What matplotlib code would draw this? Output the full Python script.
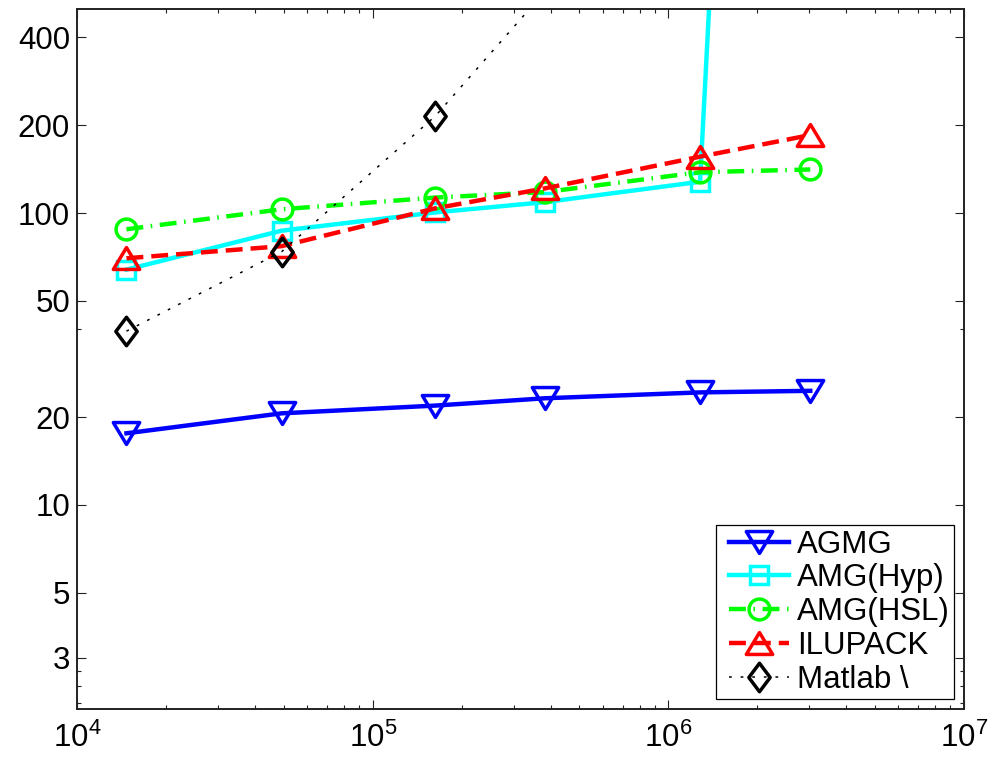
import numpy as np
import matplotlib
matplotlib.use("Agg")
import matplotlib.pyplot as plt
from matplotlib.path import Path
from matplotlib.markers import MarkerStyle
from matplotlib.legend_handler import HandlerLine2D
from matplotlib.ticker import FixedLocator, NullFormatter

plt.rcParams['font.family'] = ['Liberation Sans', 'DejaVu Sans']
plt.rcParams['mathtext.fontset'] = 'custom'
plt.rcParams['mathtext.rm'] = 'Liberation Sans'
plt.rcParams['mathtext.it'] = 'Liberation Sans:italic'

# problem sizes (number of unknowns)
sizes = [1.47e4, 4.92e4, 1.63e5, 3.83e5, 1.28e6, 3.02e6]

# timings per solver
agmg = [17.6, 20.6, 21.9, 23.2, 24.3, 24.6]
amg_hyp = [64, 87, 100.5, 109, 128, 2.2e9]
amg_hsl = [88, 103, 113, 118, 138, 141]
ilupack = [70, 77, 103.8, 121.5, 156, 185]
matlab_bs = [39.4, 73.7, 215, 575]

labels = ['AGMG', 'AMG(Hyp)', 'AMG(HSL)', 'ILUPACK', 'Matlab \\']

yticks = [3, 5, 10, 20, 50, 100, 200, 400]
yminor = [2.1, 2.4, 2.7, 40]
xticks = [1e4, 1e5, 1e6, 1e7]
xticklabels = [r'$\mathregular{10^{4}}$', r'$\mathregular{10^{5}}$',
               r'$\mathregular{10^{6}}$', r'$\mathregular{10^{7}}$']

# marker shapes: wide triangles and a tall diamond
tri_up = MarkerStyle(Path([(-1, -0.83), (1, -0.83), (0, 0.83), (-1, -0.83)],
                          [1, 2, 2, 79]), joinstyle='miter')
tri_dn = MarkerStyle(Path([(-1, 0.83), (1, 0.83), (0, -0.83), (-1, 0.83)],
                          [1, 2, 2, 79]), joinstyle='miter')
diamond = MarkerStyle(Path([(0, 1), (0.75, 0), (0, -1), (-0.75, 0), (0, 1)],
                           [1, 2, 2, 2, 79]), joinstyle='miter')


class PaddedLineHandler(HandlerLine2D):
    """Line handle that starts a little to the right of the legend border."""
    def get_xdata(self, legend, xdescent, ydescent, width, height, fontsize):
        pad = 0.3 * fontsize
        x0 = -xdescent + pad
        x1 = -xdescent + width
        return np.array([x0, x1]), np.array([0.5 * (x0 + x1)])


fig = plt.figure(figsize=(9.95, 7.62), dpi=100)
ax = fig.add_axes([77 / 995, 1 - 709 / 762, (964 - 77) / 995, (709 - 9) / 762])

lw = 3.2
mew = 2.5
ax.plot(sizes, agmg, color=(0, 0, 1), lw=lw, marker=tri_dn, ms=19,
        mew=mew, mfc='none', label=labels[0])
ax.plot(sizes, amg_hyp, color=(0, 1, 1), lw=lw, marker='s', ms=12.5,
        mew=mew, mfc='none', label=labels[1])
ax.plot(sizes, amg_hsl, color=(0, 1, 0), lw=lw, marker='o', ms=15,
        mew=mew, mfc='none', dashes=(3.8, 1.7, 0.35, 1.7), label=labels[2])
ax.plot(sizes, ilupack, color=(1, 0, 0), lw=lw, marker=tri_up, ms=19,
        mew=mew, mfc='none', dashes=(3.8, 1.8), label=labels[3])
ax.plot(sizes[:len(matlab_bs)], matlab_bs, color='k', lw=1.1, marker=diamond,
        ms=20.5, mew=mew, mfc='none', dashes=(1.8, 5.8), label=labels[4])

ax.set_xscale('log')
ax.set_yscale('log')
ax.set_xlim(1e4, 1e7)
ax.set_ylim(2, 500)

ax.set_xticks(xticks)
ax.set_xticklabels(xticklabels)
ax.set_yticks(yticks)
ax.set_yticklabels([str(v) for v in yticks])
ax.yaxis.set_minor_locator(FixedLocator(yminor))
ax.yaxis.set_minor_formatter(NullFormatter())

ax.tick_params(which='both', direction='in', top=True, right=True,
               labelsize=22.5, width=0.8, color='#222222')
ax.tick_params(which='major', length=6.3)
ax.tick_params(which='minor', length=3.2)
ax.tick_params(axis='y', which='major', pad=5)
ax.tick_params(axis='x', which='major', pad=10)
for s in ax.spines.values():
    s.set_linewidth(1.4)
    s.set_color('#222222')

leg = ax.legend(loc='lower right', fontsize=22.5, frameon=True, fancybox=False,
                edgecolor='k', framealpha=1, borderpad=0.14, labelspacing=0.12,
                handlelength=2.2, handletextpad=0.26, borderaxespad=0.32,
                handler_map={matplotlib.lines.Line2D: PaddedLineHandler()})
leg.get_frame().set_linewidth(0.9)

fig.savefig('out.png', dpi=100)
